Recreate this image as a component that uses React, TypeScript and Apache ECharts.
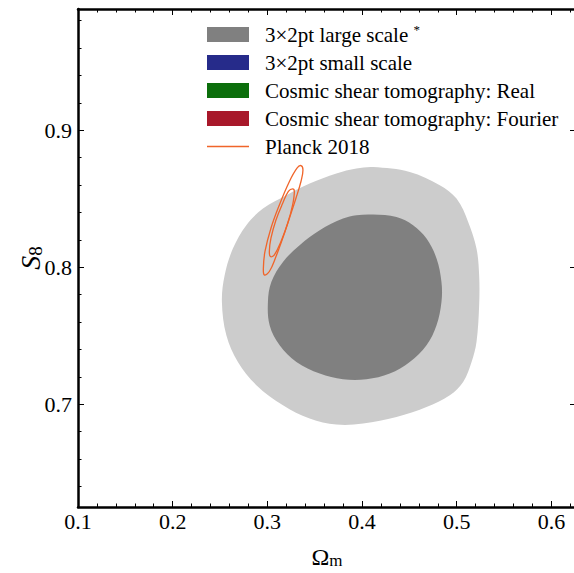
import React, { useEffect, useRef } from 'react';
import * as echarts from 'echarts';

// Axis tick values
const X_MAJOR = [0.1, 0.2, 0.3, 0.4, 0.5, 0.6];
const X_MINOR = [0.12, 0.14, 0.16, 0.18, 0.22, 0.24, 0.26, 0.28, 0.32, 0.34, 0.36, 0.38, 0.42, 0.44, 0.46, 0.48, 0.52, 0.54, 0.56, 0.58, 0.62];
const Y_MAJOR = [0.7, 0.8, 0.9];
const Y_MINOR = [0.64, 0.66, 0.68, 0.72, 0.74, 0.76, 0.78, 0.82, 0.84, 0.86, 0.88, 0.92, 0.94, 0.96, 0.98];

// Legend entries
const NAMES = [
  '3×2pt large scale *',
  '3×2pt small scale',
  'Cosmic shear tomography: Real',
  'Cosmic shear tomography: Fourier',
  'Planck 2018',
];

// 3x2pt large scale, 95% contour (Omega_m, S8)
const LARGE_95 = [
  [0.4116, 0.8732], [0.4504, 0.8696], [0.4821, 0.8599], [0.4998, 0.8501], [0.5121, 0.8331],
  [0.5209, 0.8136], [0.5237, 0.7942], [0.5237, 0.7723], [0.5209, 0.7455], [0.5157, 0.7309],
  [0.5068, 0.7163], [0.4927, 0.7066], [0.4681, 0.6980], [0.4364, 0.6907], [0.4011, 0.6859],
  [0.3729, 0.6852], [0.3447, 0.6896], [0.3165, 0.6993], [0.2884, 0.7139], [0.2689, 0.7309],
  [0.2567, 0.7504], [0.2520, 0.7747], [0.2549, 0.7942], [0.2636, 0.8136], [0.2778, 0.8307],
  [0.2954, 0.8428], [0.3201, 0.8526], [0.3447, 0.8611], [0.3729, 0.8684], [0.3941, 0.8720],
];

// 3x2pt large scale, 68% contour
const LARGE_68 = [
  [0.4116, 0.8385], [0.4364, 0.8367], [0.4539, 0.8307], [0.4681, 0.8209], [0.4787, 0.8064],
  [0.4839, 0.7893], [0.4839, 0.7747], [0.4787, 0.7577], [0.4681, 0.7431], [0.4504, 0.7309],
  [0.4293, 0.7224], [0.4047, 0.7182], [0.3799, 0.7182], [0.3553, 0.7224], [0.3307, 0.7309],
  [0.3130, 0.7431], [0.3024, 0.7577], [0.3006, 0.7747], [0.3042, 0.7893], [0.3165, 0.8039],
  [0.3341, 0.8161], [0.3553, 0.8270], [0.3799, 0.8355], [0.3941, 0.8380],
];

// Planck 2018 contours
const PLANCK_95 = [
  [0.3355, 0.8742], [0.3376, 0.8710], [0.3355, 0.8626], [0.3302, 0.8504], [0.3233, 0.8358],
  [0.3162, 0.8212], [0.3091, 0.8078], [0.3021, 0.7969], [0.2968, 0.7944], [0.2958, 0.7993],
  [0.2975, 0.8115], [0.3038, 0.8285], [0.3127, 0.8455], [0.3233, 0.8626], [0.3313, 0.8723],
];
const PLANCK_68 = [
  [0.3267, 0.8572], [0.3285, 0.8553], [0.3267, 0.8455], [0.3215, 0.8321], [0.3144, 0.8188],
  [0.3074, 0.8090], [0.3032, 0.8078], [0.3021, 0.8115], [0.3038, 0.8212], [0.3091, 0.8345],
  [0.3162, 0.8467], [0.3222, 0.8553],
];

const X_MIN = 0.1, X_MAX = 0.626;
const Y_MIN = 0.625, Y_MAX = 0.9885;

const FONT = 'Liberation Serif';
const GRAY_DARK = '#808080';
const GRAY_LIGHT = '#cccccc';
const BLUE = '#262b8a';
const GREEN = '#0b6e0b';
const RED = '#a8182a';
const ORANGE = '#f0652a';

function polySeries(name: string, pts: number[][], style: any, smooth: number) {
  return {
    type: 'custom',
    name,
    silent: true,
    xAxisIndex: 0,
    yAxisIndex: 0,
    data: pts,
    renderItem: (params: any, api: any) => {
      if (params.dataIndex !== 0) return null;
      return {
        type: 'polygon',
        shape: { points: pts.map((p) => api.coord(p)), smooth },
        style,
      };
    },
  };
}

function emptySeries(name: string) {
  return { type: 'custom', name, data: [], renderItem: () => null };
}

export default function App() {
  const ref = useRef<HTMLDivElement>(null);
  useEffect(() => {
    if (!ref.current) return;
    const chart = echarts.init(ref.current, undefined, { renderer: 'svg' });
    const black = '#000';
    const majorTick = (vals: number[]) => ({ show: true, inside: true, length: 6, customValues: vals, lineStyle: { color: black, width: 1 } });
    const minorTick = (vals: number[]) => ({ show: true, inside: true, length: 3.5, customValues: vals, lineStyle: { color: black, width: 1 } });
    const spine = { show: true, lineStyle: { color: black, width: 2.5 } };
    const noLine = { show: false };
    const common = { type: 'value', splitLine: { show: false } };
    const xBase = { ...common, min: X_MIN, max: X_MAX, gridIndex: 0 };
    const yBase = { ...common, min: Y_MIN, max: Y_MAX, gridIndex: 0 };
    const labelStyle = { fontFamily: FONT, fontSize: 22, color: black };

    chart.setOption({
      animation: false,
      backgroundColor: '#fff',
      grid: { left: 78, top: 9, width: 498, height: 498, containLabel: false, outerBoundsMode: 'none' },
      xAxis: [
        {
          ...xBase, position: 'bottom', axisLine: spine, axisTick: majorTick(X_MAJOR),
          axisLabel: { ...labelStyle, margin: 3, customValues: X_MAJOR, formatter: (v: number) => v.toFixed(1) },
          name: '{a|Ω}{b|m}', nameLocation: 'middle', nameGap: 38, nameMoveOverlap: false,
          nameTextStyle: { fontFamily: FONT, color: black, rich: { a: { fontFamily: FONT, fontSize: 24, color: black }, b: { fontFamily: FONT, fontSize: 17, color: black, padding: [7, 0, 0, 0] } } },
        },
        { ...xBase, position: 'bottom', axisLine: noLine, axisTick: minorTick(X_MINOR), axisLabel: { show: false } },
        { ...xBase, position: 'top', axisLine: spine, axisTick: majorTick(X_MAJOR), axisLabel: { show: false } },
        { ...xBase, position: 'top', axisLine: noLine, axisTick: minorTick(X_MINOR), axisLabel: { show: false } },
      ],
      yAxis: [
        {
          ...yBase, position: 'left', axisLine: spine, axisTick: majorTick(Y_MAJOR),
          axisLabel: { ...labelStyle, margin: 6, customValues: Y_MAJOR, formatter: (v: number) => v.toFixed(1) },
          name: '{s|S}{n|8}', nameLocation: 'middle', nameGap: 33, nameRotate: 90, nameMoveOverlap: false,
          nameTextStyle: { fontFamily: FONT, color: black, rich: { s: { fontFamily: FONT, fontStyle: 'italic', fontSize: 28, color: black }, n: { fontFamily: FONT, fontSize: 19, color: black, padding: [10, 0, 0, 0] } } },
        },
        { ...yBase, position: 'left', axisLine: noLine, axisTick: minorTick(Y_MINOR), axisLabel: { show: false } },
        { ...yBase, position: 'right', axisLine: spine, axisTick: majorTick(Y_MAJOR), axisLabel: { show: false } },
      ],
      legend: {
        orient: 'vertical', left: 207, top: 23, padding: 0,
        itemWidth: 42, itemHeight: 15, itemGap: 7, selectedMode: false,
        textStyle: {
          fontFamily: FONT, fontSize: 21, color: black, lineHeight: 21, padding: [0, 0, 0, 11],
          rich: { sup: { fontFamily: FONT, fontSize: 13, color: black, padding: [0, 0, 10, 0] } },
        },
        formatter: (n: string) => (n.endsWith(' *') ? n.slice(0, -1) + '{sup|*}' : n),
        data: [
          { name: NAMES[0], icon: 'rect', itemStyle: { color: GRAY_DARK } },
          { name: NAMES[1], icon: 'rect', itemStyle: { color: BLUE } },
          { name: NAMES[2], icon: 'rect', itemStyle: { color: GREEN } },
          { name: NAMES[3], icon: 'rect', itemStyle: { color: RED } },
          { name: NAMES[4], icon: 'path://M0,0H42V1.5H0Z', itemStyle: { color: ORANGE } },
        ],
      },
      series: [
        polySeries(NAMES[0], LARGE_95, { fill: GRAY_LIGHT, stroke: 'none' }, 0.35),
        polySeries(NAMES[0], LARGE_68, { fill: GRAY_DARK, stroke: 'none' }, 0.35),
        emptySeries(NAMES[1]),
        emptySeries(NAMES[2]),
        emptySeries(NAMES[3]),
        polySeries(NAMES[4], PLANCK_95, { fill: 'none', stroke: ORANGE, lineWidth: 1.3 }, 0.4),
        polySeries(NAMES[4], PLANCK_68, { fill: 'none', stroke: ORANGE, lineWidth: 1.3 }, 0.4),
      ],
    });
    return () => chart.dispose();
  }, []);
  return <div ref={ref} style={{ position: 'fixed', left: 0, top: 0, width: 574, height: 573 }} />;
}
